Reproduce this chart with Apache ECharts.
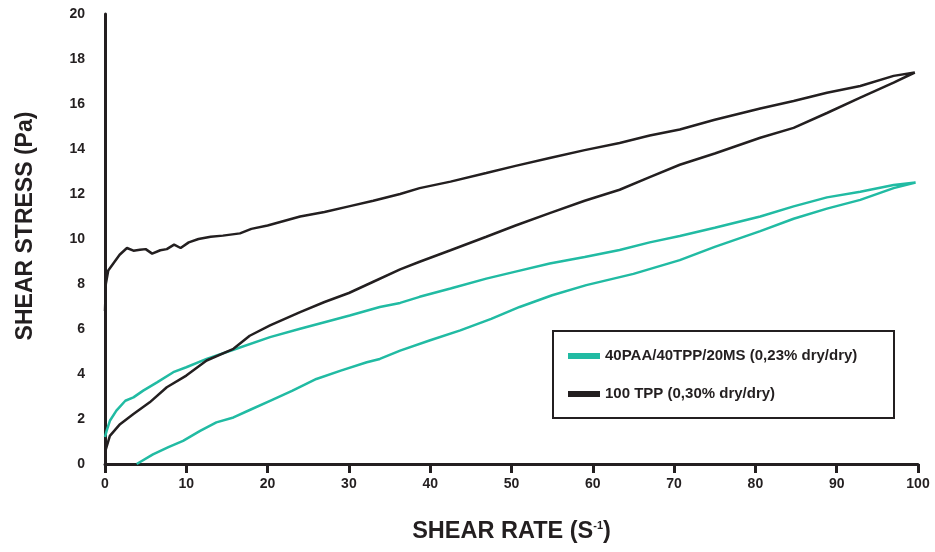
<!DOCTYPE html>
<html>
<head>
<meta charset="utf-8">
<script src="https://cdn.jsdelivr.net/npm/echarts@6/dist/echarts.min.js"></script>
<style>
  html, body { margin: 0; padding: 0; background: #fff; }
  #chart { width: 935px; height: 552px; }
</style>
</head>
<body>
<div id="chart"></div>
<script>
// series names (legend)
var seriesNames = ['40PAA/40TPP/20MS (0,23% dry/dry)', '100 TPP (0,30% dry/dry)'];

// 40PAA/40TPP/20MS loop: upper branch 0 -> 100, then lower branch back to 0
var paaUp = [
  [0, 1.2], [0.2, 1.47], [0.6, 1.92], [1.4, 2.37], [2.5, 2.81], [3.5, 2.96], [4.7, 3.26],
  [6.4, 3.63], [8.4, 4.08], [10, 4.3], [12.5, 4.67], [15.8, 5.08], [20.3, 5.64],
  [24, 6.01], [27, 6.3], [30.1, 6.6], [33.8, 6.98], [36.3, 7.16], [38.7, 7.43],
  [42.5, 7.8], [46.9, 8.24], [50.5, 8.55], [54.7, 8.91], [59, 9.2], [63.3, 9.51],
  [67, 9.85], [70.7, 10.13], [75, 10.5], [80.6, 11.0], [84.7, 11.45], [88.8, 11.85],
  [92.9, 12.1], [97, 12.4], [99.7, 12.51]
];
var paaDown = [
  [99.7, 12.51], [97, 12.26], [92.9, 11.74], [88.8, 11.35], [84.7, 10.9], [80.6, 10.35],
  [75, 9.65], [70.7, 9.06], [65, 8.45], [59.2, 7.95], [55, 7.5], [51, 6.98],
  [47.5, 6.45], [43.7, 5.94], [40, 5.5], [36.3, 5.04], [33.8, 4.67], [32.2, 4.52],
  [29, 4.15], [26, 3.78], [23, 3.25], [20.3, 2.81], [17.8, 2.4], [15.8, 2.07],
  [13.7, 1.85], [11.7, 1.47], [9.6, 1.03], [7.8, 0.75], [5.9, 0.43], [3.9, 0]
];

// 100 TPP loop: upper branch 0 -> 100, then lower branch back to 0
var tppUp = [
  [0, 6.8], [0.1, 8.0], [0.4, 8.6], [1, 8.9], [1.8, 9.3], [2.7, 9.6], [3.5, 9.48],
  [4.3, 9.52], [5.0, 9.55], [5.8, 9.35], [6.8, 9.5], [7.6, 9.55], [8.5, 9.75],
  [9.3, 9.6], [10.3, 9.85], [11.5, 10.0], [13, 10.1], [14.5, 10.15], [16.6, 10.25],
  [18, 10.45], [20, 10.6], [22, 10.8], [24, 11.0], [27, 11.2], [30, 11.45],
  [33, 11.7], [36.3, 12.0], [38.7, 12.26], [42.5, 12.55], [46.9, 12.93], [50.5, 13.25],
  [54.7, 13.6], [59, 13.95], [63.3, 14.27], [67, 14.6], [70.7, 14.87], [75, 15.3],
  [80.6, 15.8], [84.7, 16.13], [88.8, 16.5], [92.9, 16.8], [97, 17.25], [99.6, 17.4]
];
var tppDown = [
  [99.6, 17.4], [97, 16.95], [92.9, 16.28], [88.8, 15.6], [84.7, 14.94], [80.6, 14.5],
  [75, 13.8], [70.7, 13.3], [67, 12.75], [63.3, 12.19], [59, 11.7], [54.7, 11.15],
  [50.5, 10.6], [46.9, 10.1], [42.5, 9.5], [38.7, 8.99], [36.3, 8.65], [33, 8.1],
  [30, 7.6], [27, 7.2], [24, 6.75], [20.3, 6.16], [17.8, 5.7], [15.8, 5.12],
  [12.5, 4.6], [10, 3.93], [7.6, 3.41], [5.5, 2.74], [3.5, 2.22], [1.85, 1.77],
  [0.6, 1.25], [0.1, 0.65]
];

// axis ranges
var xTicks = { min: 0, max: 100, interval: 10 };
var yTicks = { min: 0, max: 20, interval: 2 };

var ink = '#231f20';
var teal = '#21bba3';

var chart = echarts.init(document.getElementById('chart'));
chart.setOption({
  animation: false,
  grid: { left: 105, right: 17, top: 14, bottom: 88, containLabel: false },
  graphic: [{
    type: 'rect',
    left: 552, top: 330,
    shape: { width: 341, height: 87 },
    style: { fill: '#fff', stroke: ink, lineWidth: 2 },
    z: 0
  }],
  legend: {
    orient: 'vertical',
    left: 568, top: 348,
    padding: 0,
    icon: 'rect',
    itemWidth: 32, itemHeight: 6, itemGap: 22,
    data: seriesNames,
    textStyle: { fontFamily: 'Liberation Sans', fontWeight: 'bold', fontSize: 15, color: ink, lineHeight: 16 },
    z: 5
  },
  xAxis: {
    type: 'value',
    min: xTicks.min, max: xTicks.max, interval: xTicks.interval,
    name: '{a|SHEAR RATE (S}{b|-1}{a|)}',
    nameLocation: 'middle',
    nameGap: 56,
    nameTextStyle: {
      rich: {
        a: { fontFamily: 'Liberation Sans', fontWeight: 'bold', fontSize: 23.5, color: ink },
        b: { fontFamily: 'Liberation Sans', fontWeight: 'bold', fontSize: 11, color: ink, verticalAlign: 'top', padding: [0, 0, 9, 0] }
      }
    },
    axisLine: { lineStyle: { color: ink, width: 3 } },
    axisTick: { show: true, length: 9, lineStyle: { color: ink, width: 3 } },
    axisLabel: { margin: 13, fontFamily: 'Liberation Sans', fontWeight: 'bold', fontSize: 14, color: ink },
    splitLine: { show: false }
  },
  yAxis: {
    type: 'value',
    min: yTicks.min, max: yTicks.max, interval: yTicks.interval,
    name: 'SHEAR STRESS (Pa)',
    nameLocation: 'middle',
    nameGap: 68,
    nameTextStyle: { fontFamily: 'Liberation Sans', fontWeight: 'bold', fontSize: 23, color: ink, padding: [0, 0, 0, 26] },
    axisLine: { show: true, lineStyle: { color: ink, width: 3 } },
    axisTick: { show: false },
    axisLabel: { margin: 20, fontFamily: 'Liberation Sans', fontWeight: 'bold', fontSize: 14, color: ink },
    splitLine: { show: false }
  },
  series: [
    {
      name: seriesNames[0],
      type: 'line',
      data: paaUp.concat(paaDown),
      showSymbol: false,
      color: teal,
      lineStyle: { color: teal, width: 2.5 },
      z: 2
    },
    {
      name: seriesNames[1],
      type: 'line',
      data: tppUp.concat(tppDown),
      showSymbol: false,
      color: ink,
      lineStyle: { color: ink, width: 2.5 },
      z: 3
    }
  ]
});
</script>
</body>
</html>
